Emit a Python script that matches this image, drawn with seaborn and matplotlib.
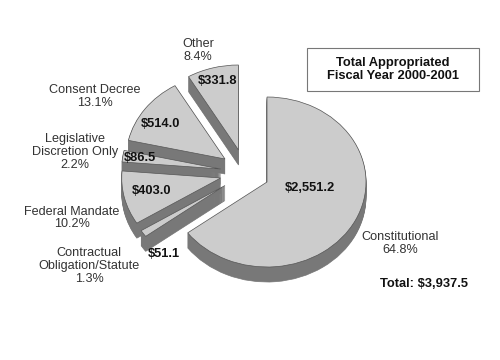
"""Total appropriated budget, fiscal year 2000-2001, as an exploded 3D style pie."""

import matplotlib

matplotlib.use("Agg")
import matplotlib.pyplot as plt
from matplotlib.patches import Rectangle
import seaborn as sns

# data, clockwise from 12 o'clock
categories = [
    "Constitutional",
    "Contractual\nObligation/Statute",
    "Federal Mandate",
    "Legislative\nDiscretion Only",
    "Consent Decree",
    "Other",
]
amounts = [2551.2, 51.1, 403.0, 86.5, 514.0, 331.8]
amount_labels = ["$2,551.2", "$51.1", "$403.0", "$86.5", "$514.0", "$331.8"]
percent_labels = ["64.8%", "1.3%", "10.2%", "2.2%", "13.1%", "8.4%"]
total_label = "Total: $3,937.5"
box_title = "Total Appropriated\nFiscal Year 2000-2001"

# layout, all in pixels of the 500x360 image
RX, RY = 99, 85
DEPTH = 15
APEX = [(267, 182), (225, 185.5), (220.7, 178), (220.7, 169), (225, 159), (238.5, 150)]
NAME_POS = [(400, 243.5), (89, 266), (72, 218), (75, 152), (95, 96.5), (198, 50.5)]
AMOUNT_POS = [(310, 188), (164, 254), (152, 191), (140, 158), (160, 123.7), (218, 81)]
# which slice is painted when: back to front
DRAW_RANK = [5, 4, 3, 2, 1, 0]

FACE = "#cccccc"
SIDE = "#787878"
EDGE = "#555555"
FONT_SIZE = 9.1
BOLD_SIZE = 9.3
LINE_SPACING = 1.1


def to_pie(x, y):
    # pie axes: one unit is the radius, so the circle comes out flattened
    return (x - APEX[0][0]) / RX, (APEX[0][1] - y) / RY


def draw_layer(ax, y_shift, color, edge, lw, z_extra):
    wedges, _ = ax.pie(
        amounts,
        startangle=90,
        counterclock=False,
        colors=[color] * len(amounts),
        wedgeprops={"edgecolor": edge, "linewidth": lw},
    )
    for wedge, (x, y), rank in zip(wedges, APEX, DRAW_RANK):
        wedge.set_center(to_pie(x, y + y_shift))
        wedge.set_zorder(rank * 10 + z_extra)


def main():
    sns.set_theme(style="white")
    plt.rcParams["font.family"] = ["Liberation Sans", "DejaVu Sans"]

    fig = plt.figure(figsize=(5, 3.6), dpi=100, facecolor="white")
    ax = fig.add_axes([0, 0, 1, 1])

    for d in range(DEPTH, 0, -1):
        draw_layer(ax, d, SIDE, SIDE, 0.5, 1)
    draw_layer(ax, 0, FACE, EDGE, 0.5, 2)

    ax.set_aspect("auto")
    ax.set_xlim(to_pie(0, 0)[0], to_pie(500, 0)[0])
    ax.set_ylim(to_pie(0, 360)[1], to_pie(0, 0)[1])
    ax.axis("off")

    # text and box go on a plain pixel axes over the pie
    top = fig.add_axes([0, 0, 1, 1], facecolor="none")
    top.set_xlim(0, 500)
    top.set_ylim(360, 0)
    top.axis("off")

    for cat, pct, (x, y) in zip(categories, percent_labels, NAME_POS):
        top.text(x, y, f"{cat}\n{pct}", ha="center", va="center", fontsize=FONT_SIZE,
                 color="#333333", linespacing=LINE_SPACING)
    for label, (x, y) in zip(amount_labels, AMOUNT_POS):
        top.text(x, y, label, ha="center", va="center", fontsize=BOLD_SIZE,
                 fontweight="bold", color="#111111")

    top.add_patch(Rectangle((306.5, 47.5), 172.5, 43.5, facecolor="white",
                            edgecolor="#777777", linewidth=0.8))
    top.text(393, 69.5, box_title, ha="center", va="center", fontsize=BOLD_SIZE,
             fontweight="bold", color="#111111", linespacing=LINE_SPACING)
    top.text(424.5, 284, total_label, ha="center", va="center", fontsize=BOLD_SIZE,
             fontweight="bold", color="#111111")

    fig.savefig("out.png", dpi=100, facecolor="white")
    plt.close(fig)


if __name__ == "__main__":
    main()
